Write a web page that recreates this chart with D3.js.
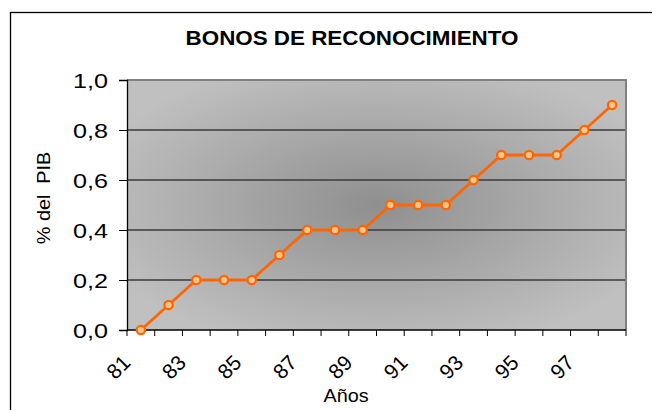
<!doctype html>
<html lang="es">
<head>
<meta charset="utf-8" />
<title>Bonos de reconocimiento</title>
<script src="https://d3js.org/d3.v7.min.js"></script>
<style>
  body { margin: 0; background: #fff; }
  svg { display: block; font-family: "Liberation Sans", Arial, sans-serif; }
</style>
</head>
<body>
<div id="chart"></div>
<script>
// data
var years = ["81","82","83","84","85","86","87","88","89","90","91","92","93","94","95","96","97","98"];
var values = [0, 0.1, 0.2, 0.2, 0.2, 0.3, 0.4, 0.4, 0.4, 0.5, 0.5, 0.5, 0.6, 0.7, 0.7, 0.7, 0.8, 0.9];
var yTicks = [0, 0.2, 0.4, 0.6, 0.8, 1.0];
var xLabels = ["81","83","85","87","89","91","93","95","97"];

var W = 652, H = 410;
var plot = {left: 127, top: 80, right: 626, bottom: 330};
var sx = 1.1; // text in the original looks a bit stretched sideways

var svg = d3.select("#chart").append("svg")
  .attr("width", W).attr("height", H);

// chart frame (runs off the right and bottom edge)
svg.append("rect")
  .attr("x", 10.5).attr("y", 12.5)
  .attr("width", 700).attr("height", 500)
  .attr("fill", "none").attr("stroke", "#000").attr("stroke-width", 1.3);

// grey "from centre" fill of the plot area
var defs = svg.append("defs");
var grad = defs.append("radialGradient").attr("id", "bg")
  .attr("cx", "0.5").attr("cy", "0.5").attr("r", "0.6");
grad.append("stop").attr("offset", "0%").attr("stop-color", "#8f8f8f");
grad.append("stop").attr("offset", "100%").attr("stop-color", "#c0c0c0");

var x = d3.scaleBand().domain(years).range([plot.left, plot.right]);
var y = d3.scaleLinear().domain([0, 1]).range([plot.bottom, plot.top]);

svg.append("rect")
  .attr("x", plot.left).attr("y", plot.top)
  .attr("width", plot.right - plot.left).attr("height", plot.bottom - plot.top)
  .attr("fill", "url(#bg)");

// gridlines
svg.append("g").selectAll("line")
  .data(yTicks.filter(function(d){ return d > 0 && d < 1; }))
  .join("line")
  .attr("x1", plot.left).attr("x2", plot.right)
  .attr("y1", function(d){ return y(d); }).attr("y2", function(d){ return y(d); })
  .attr("stroke", "#3a3a3a").attr("stroke-width", 1.5);

// plot area border top / right
svg.append("path")
  .attr("d", "M" + plot.left + "," + plot.top + "H" + plot.right + "V" + plot.bottom)
  .attr("fill", "none").attr("stroke", "#808080").attr("stroke-width", 2);

// y axis
var yAxis = svg.append("g")
  .attr("transform", "translate(" + plot.left + ",0)")
  .call(d3.axisLeft(y).tickValues(yTicks).tickSize(8).tickFormat(""));
yAxis.select(".domain").attr("stroke", "#000").attr("stroke-width", 1.3);
yAxis.selectAll(".tick line").attr("stroke", "#000");

svg.append("g").selectAll("g")
  .data(yTicks)
  .join("g")
  .attr("transform", function(d){ return "translate(108," + (y(d) + 7.6) + ")"; })
  .append("text")
  .attr("transform", "scale(1.2,1)")
  .attr("text-anchor", "end")
  .attr("font-size", 21)
  .attr("fill", "#000")
  .text(function(d){ return d3.format(".1f")(d).replace(".", ","); });

// x axis: ticks on the category boundaries
var bounds = years.map(function(d){ return x(d); }).concat([plot.right]);
var xAxis = svg.append("g");
xAxis.append("line")
  .attr("x1", plot.left).attr("x2", plot.right)
  .attr("y1", plot.bottom).attr("y2", plot.bottom)
  .attr("stroke", "#000").attr("stroke-width", 1.3);
xAxis.selectAll("line.tk")
  .data(bounds)
  .join("line").attr("class", "tk")
  .attr("x1", function(d){ return d; }).attr("x2", function(d){ return d; })
  .attr("y1", plot.bottom).attr("y2", plot.bottom + 6)
  .attr("stroke", "#000");

svg.append("g").selectAll("text")
  .data(xLabels)
  .join("text")
  .attr("transform", function(d){
    return "translate(" + (x(d) + x.bandwidth() / 2 - 9) + ",364) rotate(-45)";
  })
  .attr("text-anchor", "end")
  .attr("font-size", 21)
  .attr("fill", "#000")
  .text(function(d){ return d; });

// the series
var line = d3.line()
  .x(function(d, i){ return x(years[i]) + x.bandwidth() / 2; })
  .y(function(d){ return y(d); });

svg.append("path")
  .datum(values)
  .attr("d", line)
  .attr("fill", "none")
  .attr("stroke", "#ff6600")
  .attr("stroke-width", 2.8)
  .attr("stroke-linejoin", "round");

svg.append("g").selectAll("circle")
  .data(values)
  .join("circle")
  .attr("cx", function(d, i){ return x(years[i]) + x.bandwidth() / 2; })
  .attr("cy", function(d){ return y(d); })
  .attr("r", 4.2)
  .attr("fill", "#ffc58c")
  .attr("stroke", "#ff6600")
  .attr("stroke-width", 2.2);

// titles
svg.append("g")
  .attr("transform", "translate(352,45)")
  .append("text")
  .attr("transform", "scale(1.12,1)")
  .attr("text-anchor", "middle")
  .attr("font-size", 20)
  .attr("font-weight", "bold")
  .text("BONOS DE RECONOCIMIENTO");

svg.append("g")
  .attr("transform", "translate(346,402)")
  .append("text")
  .attr("transform", "scale(" + sx + ",1)")
  .attr("text-anchor", "middle")
  .attr("font-size", 18)
  .text("Años");

svg.append("g")
  .attr("transform", "translate(50,198) rotate(-90)")
  .append("text")
  .attr("transform", "scale(" + sx + ",1)")
  .attr("text-anchor", "middle")
  .attr("font-size", 18)
  .attr("xml:space", "preserve")
  .style("white-space", "pre")
  .text("% del  PIB");
</script>
</body>
</html>
